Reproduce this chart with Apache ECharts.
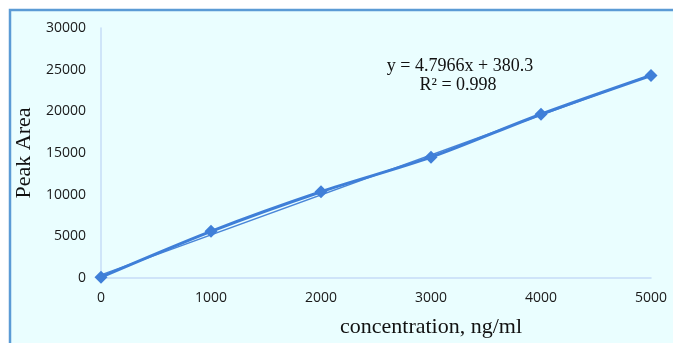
<!DOCTYPE html>
<html><head><meta charset="utf-8">
<script src="https://cdn.jsdelivr.net/npm/echarts@6/dist/echarts.min.js"></script>
<style>html,body{margin:0;padding:0;background:#fff}#c{width:673px;height:343px}</style>
</head><body><div id="c"></div>
<script>
const concentrations = [0, 1000, 2000, 3000, 4000, 5000];
const peakAreas = [100, 5600, 10350, 14500, 19650, 24300];
const trendX = [0, 5000];
const trendY = [380, 24363];
const yTicks = [0, 5000, 10000, 15000, 20000, 25000, 30000];
const xTicks = [0, 1000, 2000, 3000, 4000, 5000];

const chart = echarts.init(document.getElementById('c'));
chart.setOption({
  animation: false,
  graphic: [
    {type: 'rect', shape: {x: 10, y: 10, width: 800, height: 500}, style: {fill: '#eafeff', stroke: '#5b9bd5', lineWidth: 2.5}, z: -10},
    {type: 'text', x: 460, y: 57, style: {text: 'y = 4.7966x + 380.3', font: '18px "Liberation Serif"', fill: '#111', textAlign: 'center'}},
    {type: 'text', x: 458, y: 76, style: {text: 'R² = 0.998', font: '18px "Liberation Serif"', fill: '#111', textAlign: 'center'}}
  ],
  grid: {left: 101, right: 22, top: 28, bottom: 63},
  xAxis: {
    type: 'value', min: 0, max: 5000, interval: 1000,
    name: 'concentration, ng/ml', nameLocation: 'middle', nameGap: 38,
    nameTextStyle: {fontFamily: 'Liberation Serif', fontSize: 22, color: '#111', padding: [0, 0, 0, 110]},
    axisLine: {lineStyle: {color: '#c6dcf7', width: 1.5}},
    axisTick: {show: false}, splitLine: {show: false},
    axisLabel: {fontFamily: 'Open Sans', fontSize: 14, color: '#1a1a1a', margin: 13,
      formatter: v => xTicks.includes(v) ? String(v) : ''}
  },
  yAxis: {
    type: 'value', min: 0, max: 30000, interval: 5000,
    name: 'Peak Area', nameLocation: 'middle', nameGap: 65,
    nameTextStyle: {fontFamily: 'Liberation Serif', fontSize: 22, color: '#111'},
    axisLine: {show: true, lineStyle: {color: '#c6dcf7', width: 1.5}},
    axisTick: {show: false}, splitLine: {show: false},
    axisLabel: {fontFamily: 'Open Sans', fontSize: 14, color: '#1a1a1a', margin: 15,
      formatter: v => yTicks.includes(v) ? String(v) : ''}
  },
  series: [
    {type: 'line', data: trendX.map((x, i) => [x, trendY[i]]), symbol: 'none',
      lineStyle: {color: '#4a86d8', width: 1.5}, z: 2},
    {type: 'line', data: concentrations.map((x, i) => [x, peakAreas[i]]), smooth: 0.3,
      symbol: 'diamond', symbolSize: 13,
      itemStyle: {color: '#3f7fd8'}, lineStyle: {color: '#3f7fd8', width: 3}, z: 3}
  ]
});
</script></body></html>
